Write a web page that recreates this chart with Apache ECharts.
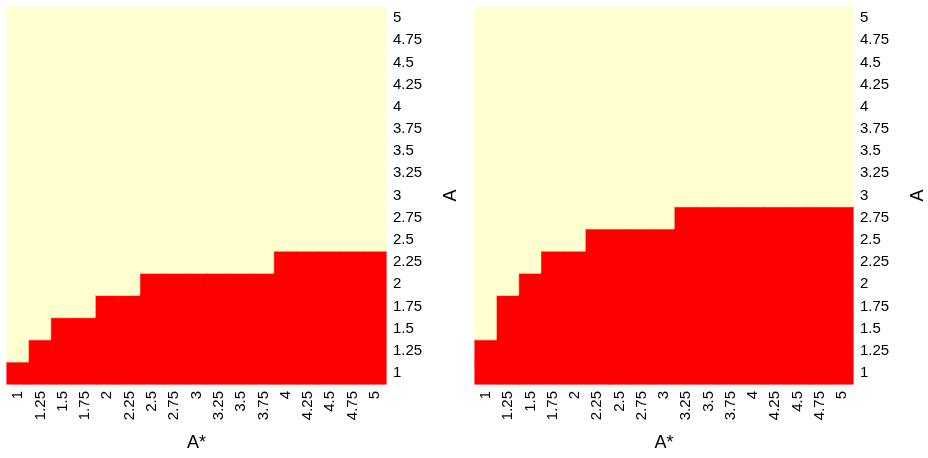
<!DOCTYPE html>
<html>
<head>
<meta charset="utf-8">
<script src="https://cdn.jsdelivr.net/npm/echarts@6/dist/echarts.min.js"></script>
<style>
  html, body { margin: 0; padding: 0; background: #fff; }
  #chart { width: 928px; height: 458px; }
</style>
</head>
<body>
<div id="chart"></div>
<script>
// Grid values of A* (columns) and A (rows)
const aStarLabels = ['1','1.25','1.5','1.75','2','2.25','2.5','2.75','3','3.25','3.5','3.75','4','4.25','4.5','4.75','5'];
const aLabels = ['1','1.25','1.5','1.75','2','2.25','2.5','2.75','3','3.25','3.5','3.75','4','4.25','4.5','4.75','5'];

// Highest A (per A* column) that falls in the red region
const leftBoundary  = [1, 1.25, 1.5, 1.5, 1.75, 1.75, 2, 2, 2, 2, 2, 2, 2.25, 2.25, 2.25, 2.25, 2.25];
const rightBoundary = [1.25, 1.75, 2, 2.25, 2.25, 2.5, 2.5, 2.5, 2.5, 2.75, 2.75, 2.75, 2.75, 2.75, 2.75, 2.75, 2.75];

const RED = '#FF0000';
const YELLOW = '#FFFFD0';
const FONT = '"Liberation Sans", Arial, Helvetica, sans-serif';

// Each cell carries its own fill and a matching thin border so neighbours join without seams
function cells(boundary) {
  const out = [];
  aStarLabels.forEach((xs, i) => {
    aLabels.forEach((ys, j) => {
      const inside = parseFloat(ys) <= boundary[i];
      const c = inside ? RED : YELLOW;
      out.push({ value: [i, j, inside ? 1 : 0], itemStyle: { color: c, borderColor: c, borderWidth: 0.6 } });
    });
  });
  return out;
}

const gridW = 379, gridH = 377;
const grids = [
  { left: 7, top: 7, width: gridW, height: gridH },
  { left: 475, top: 7, width: gridW, height: gridH }
];

function xAxis(idx) {
  return {
    type: 'category', gridIndex: idx, data: aStarLabels,
    name: 'A*', nameLocation: 'middle', nameGap: 50,
    nameTextStyle: { fontFamily: FONT, fontSize: 18, color: '#000' },
    axisLine: { show: false }, axisTick: { show: false }, splitArea: { show: false },
    axisLabel: { rotate: 90, interval: 0, margin: 7, fontFamily: FONT, fontSize: 15, color: '#000' }
  };
}
function yAxis(idx) {
  return {
    type: 'category', gridIndex: idx, data: aLabels, position: 'right',
    name: 'A', nameLocation: 'middle', nameGap: 56, nameRotate: 90,
    nameTextStyle: { fontFamily: FONT, fontSize: 18, color: '#000' },
    axisLine: { show: false }, axisTick: { show: false }, splitArea: { show: false },
    axisLabel: { interval: 0, margin: 7, fontFamily: FONT, fontSize: 15, color: '#000' }
  };
}

const chart = echarts.init(document.getElementById('chart'), null, { renderer: 'canvas' });
chart.setOption({
  animation: false,
  backgroundColor: '#fff',
  grid: grids,
  xAxis: [xAxis(0), xAxis(1)],
  yAxis: [yAxis(0), yAxis(1)],
  series: [
    { type: 'heatmap', xAxisIndex: 0, yAxisIndex: 0, data: cells(leftBoundary),
      emphasis: { disabled: true } },
    { type: 'heatmap', xAxisIndex: 1, yAxisIndex: 1, data: cells(rightBoundary),
      emphasis: { disabled: true } }
  ]
});
</script>
</body>
</html>
